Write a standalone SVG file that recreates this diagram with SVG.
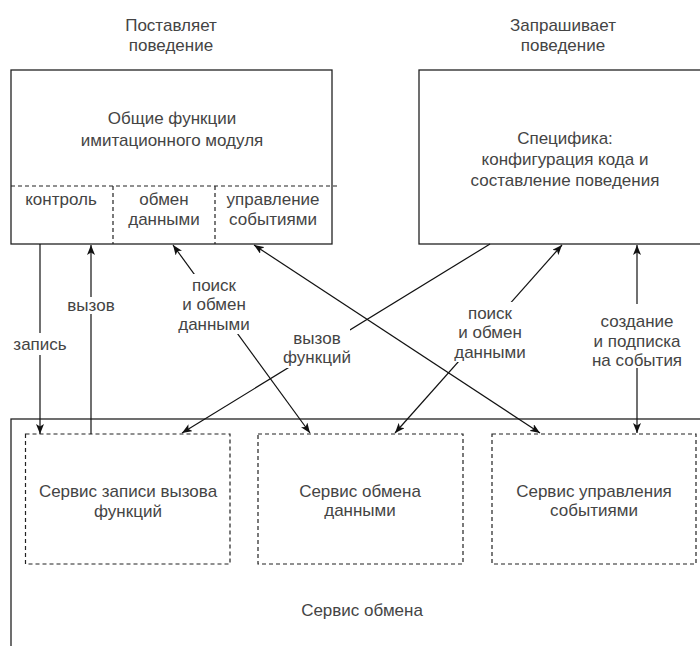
<svg xmlns="http://www.w3.org/2000/svg" width="700" height="646" viewBox="0 0 700 646">
<style>
text { font-family: "Liberation Sans", Arial, sans-serif; font-size: 17px; fill: #444; text-anchor: middle; }
.box { fill: #fff; stroke: #222; stroke-width: 1.3; }
.dash { fill: none; stroke: #222; stroke-width: 1.2; stroke-dasharray: 4 3; }
.edge { fill: none; stroke: #111; stroke-width: 1.2; }
.lbl { fill: #fff; stroke: none; }
</style>
<defs>
<marker id="arr" viewBox="0 0 10 8" refX="10" refY="4" markerWidth="10" markerHeight="8" markerUnits="userSpaceOnUse" orient="auto-start-reverse">
<path d="M0,0 L10,4 L0,8 L2.5,4 z" fill="#111"/>
</marker>
</defs>
<rect width="700" height="646" fill="#fff"/>

<g id="title-left">
<text x="171" y="31">Поставляет</text>
<text x="171" y="51">поведение</text>
</g>
<g id="title-right">
<text x="563" y="31">Запрашивает</text>
<text x="563" y="51">поведение</text>
</g>

<g id="common-functions">
<rect class="box" x="11" y="70" width="321" height="174"/>
<text x="172" y="124">Общие функции</text>
<text x="172" y="146">имитационного модуля</text>
<line class="dash" x1="11" y1="186" x2="337" y2="186"/>
<line class="dash" x1="113" y1="186" x2="113" y2="244"/>
<line class="dash" x1="215" y1="186" x2="215" y2="244"/>
<text x="61" y="205">контроль</text>
<text x="164" y="205">обмен</text>
<text x="164" y="224.5">данными</text>
<text x="273" y="205">управление</text>
<text x="273" y="224.5">событиями</text>
</g>

<g id="specifics">
<rect class="box" x="419" y="70" width="300" height="174"/>
<text x="565" y="144">Специфика:</text>
<text x="565" y="165">конфигурация кода и</text>
<text x="565" y="186">составление поведения</text>
</g>

<g id="exchange-service">
<rect class="box" x="11" y="419" width="710" height="240"/>
<text x="362" y="616">Сервис обмена</text>
</g>
<g id="call-record-service">
<rect class="dash" x="25.5" y="434" width="204.5" height="130"/>
<text x="128" y="497">Сервис записи вызова</text>
<text x="128" y="516.5">функций</text>
</g>
<g id="data-exchange-service">
<rect class="dash" x="258" y="434" width="205" height="130"/>
<text x="360" y="496.5">Сервис обмена</text>
<text x="360" y="516">данными</text>
</g>
<g id="event-service">
<rect class="dash" x="492" y="434" width="204" height="130"/>
<text x="594" y="496.5">Сервис управления</text>
<text x="594" y="516">событиями</text>
</g>

<g id="connectors">
<line class="edge" x1="40" y1="244" x2="40" y2="434" marker-end="url(#arr)"/>
<line class="edge" x1="91" y1="434" x2="91" y2="245" marker-end="url(#arr)"/>
<line class="edge" x1="173" y1="245" x2="310" y2="433" marker-start="url(#arr)" marker-end="url(#arr)"/>
<line class="edge" x1="254" y1="245" x2="540" y2="433" marker-start="url(#arr)" marker-end="url(#arr)"/>
<line class="edge" x1="490" y1="244" x2="182" y2="433" marker-end="url(#arr)"/>
<line class="edge" x1="562" y1="245" x2="395" y2="433" marker-start="url(#arr)" marker-end="url(#arr)"/>
<line class="edge" x1="637" y1="245" x2="637" y2="433" marker-start="url(#arr)" marker-end="url(#arr)"/>

<rect class="lbl" x="14" y="333" width="52" height="22"/>
<text x="40" y="350">запись</text>
<rect class="lbl" x="67" y="297" width="48" height="17"/>
<text x="91" y="311">вызов</text>
<rect class="lbl" x="177" y="274" width="74" height="60"/>
<text x="214" y="290.5">поиск</text>
<text x="214" y="310">и обмен</text>
<text x="214" y="329.5">данными</text>
<rect class="lbl" x="284" y="327" width="66" height="41"/>
<text x="317" y="343.5">вызов</text>
<text x="317" y="363">функций</text>
<rect class="lbl" x="454" y="302" width="73" height="60"/>
<text x="490" y="318.5">поиск</text>
<text x="490" y="338">и обмен</text>
<text x="490" y="357.5">данными</text>
<rect class="lbl" x="592" y="304" width="90" height="64"/>
<text x="637" y="327">создание</text>
<text x="637" y="346.5">и подписка</text>
<text x="637" y="366">на события</text>
</g>
</svg>
